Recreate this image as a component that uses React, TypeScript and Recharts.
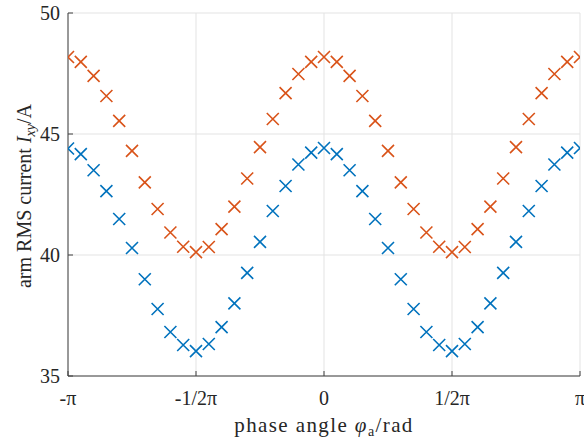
import { ScatterChart, Scatter, XAxis, YAxis, CartesianGrid } from 'recharts'

// phase in multiples of pi, step pi/20
const phaseInPi = [
  -1, -0.95, -0.9, -0.85, -0.8, -0.75, -0.7, -0.65, -0.6, -0.55,
  -0.5, -0.45, -0.4, -0.35, -0.3, -0.25, -0.2, -0.15, -0.1, -0.05,
  0, 0.05, 0.1, 0.15, 0.2, 0.25, 0.3, 0.35, 0.4, 0.45,
  0.5, 0.55, 0.6, 0.65, 0.7, 0.75, 0.8, 0.85, 0.9, 0.95, 1
]

const orangeValues = [
  48.18, 47.98, 47.4, 46.57, 45.54, 44.3, 43.0, 41.9, 40.93, 40.34,
  40.12, 40.33, 41.07, 42.0, 43.16, 44.46, 45.62, 46.69, 47.48, 47.98,
  48.18, 47.98, 47.4, 46.57, 45.54, 44.3, 43.0, 41.9, 40.93, 40.34,
  40.12, 40.33, 41.07, 42.0, 43.16, 44.46, 45.62, 46.69, 47.48, 47.98, 48.18
]

const blueValues = [
  44.4, 44.17, 43.5, 42.64, 41.49, 40.29, 39.0, 37.77, 36.82, 36.28,
  36.03, 36.32, 37.02, 38.0, 39.26, 40.54, 41.82, 42.85, 43.74, 44.23,
  44.42, 44.17, 43.5, 42.64, 41.49, 40.29, 39.0, 37.77, 36.82, 36.28,
  36.03, 36.32, 37.02, 38.0, 39.26, 40.54, 41.82, 42.85, 43.74, 44.23, 44.42
]

const xTicksInPi = [-1, -0.5, 0, 0.5, 1]
const xTickLabels = ['-\u03c0', '-1/2\u03c0', '0', '1/2\u03c0', '\u03c0']
const yTicks = [35, 40, 45, 50]

const orangeData = phaseInPi.map((p, i) => ({ phase: p * Math.PI, current: orangeValues[i] }))
const blueData = phaseInPi.map((p, i) => ({ phase: p * Math.PI, current: blueValues[i] }))

const FONT = '"Liberation Serif", "DejaVu Serif", serif'
const TEXT = '#262626'

const XMark = (color: string) => (props: any) => {
  const { cx, cy } = props
  const s = 6
  return (
    <path
      d={`M${cx - s},${cy - s}L${cx + s},${cy + s}M${cx - s},${cy + s}L${cx + s},${cy - s}`}
      stroke={color}
      strokeWidth={1.6}
      fill='none'
    />
  )
}

const XTick = (props: any) => {
  const { x, y, payload } = props
  const idx = xTicksInPi.findIndex((t) => Math.abs(t * Math.PI - payload.value) < 1e-6)
  return (
    <g>
      <line x1={x} y1={y} x2={x} y2={y - 5} stroke='#404040' />
      <text x={x} y={y + 29} textAnchor='middle' fontFamily={FONT} fontSize={20} fill={TEXT}>
        {xTickLabels[idx]}
      </text>
    </g>
  )
}

const YTick = (props: any) => {
  const { x, y, payload } = props
  return (
    <g>
      <line x1={x} y1={y} x2={x + 5} y2={y} stroke='#404040' />
      <text x={x - 8} y={y + 7} textAnchor='end' fontFamily={FONT} fontSize={20} fill={TEXT}>
        {payload.value}
      </text>
    </g>
  )
}

export default function App() {
  return (
    <div style={{ position: 'absolute', left: 0, top: 0, width: 584, height: 441, background: '#fff' }}>
      <ScatterChart width={584} height={441} margin={{ top: 13, right: 4, bottom: 0, left: 0 }}>
        <CartesianGrid stroke='#e3e3e3' strokeWidth={1} />
        <XAxis
          type='number'
          dataKey='phase'
          domain={[-Math.PI, Math.PI]}
          ticks={xTicksInPi.map((t) => t * Math.PI)}
          interval={0}
          tick={<XTick />}
          tickLine={false}
          tickSize={0}
          tickMargin={0}
          height={65}
          stroke='#404040'
          allowDataOverflow
        />
        <YAxis
          type='number'
          dataKey='current'
          domain={[35, 50]}
          ticks={yTicks}
          interval={0}
          tick={<YTick />}
          tickLine={false}
          tickSize={0}
          tickMargin={0}
          width={68}
          stroke='#404040'
          allowDataOverflow
        />
        <Scatter data={blueData} shape={XMark('#0072BD')} isAnimationActive={false} />
        <Scatter data={orangeData} shape={XMark('#D95319')} isAnimationActive={false} />
      </ScatterChart>
      <svg width={584} height={441} style={{ position: 'absolute', left: 0, top: 0, pointerEvents: 'none' }}>
        <text x={324} y={432} textAnchor='middle' fontFamily={FONT} fontSize={21} letterSpacing={1.4} fill={TEXT}>
          phase angle <tspan fontStyle='italic'>{'\u03c6'}</tspan>
          <tspan fontSize={14} dy={4}>a</tspan>
          <tspan dy={-4}>/rad</tspan>
        </text>
        <text
          x={31}
          y={196}
          transform='rotate(-90 31 196)'
          textAnchor='middle'
          fontFamily={FONT}
          fontSize={20}
          fill={TEXT}
        >
          arm RMS current <tspan fontStyle='italic'>I</tspan>
          <tspan fontStyle='italic' fontSize={14} dy={4}>xy</tspan>
          <tspan dy={-4}>/A</tspan>
        </text>
      </svg>
    </div>
  )
}
